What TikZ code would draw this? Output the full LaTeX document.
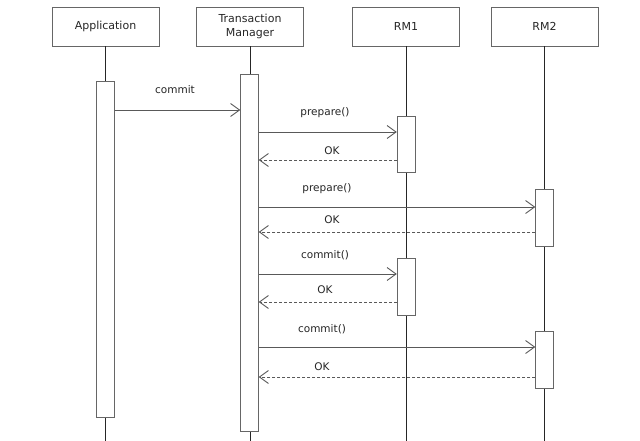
\documentclass[tikz,border=0pt]{standalone}
\usepackage{fontspec}
\setmainfont{DejaVu Sans}
\usetikzlibrary{arrows.meta}
\begin{document}
\begin{tikzpicture}[x=1pt,y=-1pt,
 head/.style={draw=black!60, fill=white, minimum width=107pt, minimum height=39pt, inner sep=0pt, align=center, text=black!85, font=\fontsize{11}{14}\selectfont},
 act/.style={draw=black!60, fill=white, minimum width=18pt, inner sep=0pt},
 life/.style={draw=black!85, line width=0.9pt},
 msg/.style={draw=black!65, line width=0.9pt, -{Straight Barb[length=9pt,width=13pt]}},
 ret/.style={msg, dash pattern=on 3pt off 2pt},
 lbl/.style={font=\fontsize{10.5}{12}\selectfont, text=black!85, inner sep=0pt}]
\useasboundingbox (0,0) rectangle (640,441);
\fill[white] (0,0) rectangle (640,441);
\coordinate (bot) at (0,441);
% headers
\node[head] (app) at (105.5,26.5) {Application};
\node[head] (tm)  at (250,26.5) {Transaction\\Manager};
\node[head] (rm1) at (406,26.5) {RM1};
\node[head] (rm2) at (544.5,26.5) {RM2};
% lifelines
\foreach \n in {app,tm,rm1,rm2} \draw[life] (\n.south) -- (\n.south |- bot);
% activations
\node[act, minimum height=336pt] (appa) at (105.5,249) {};
\node[act, minimum height=357pt] (tma)  at (249.5,252.5) {};
\node[act, minimum height=56pt] (rm1a) at (406,144) {};
\node[act, minimum height=57pt] (rm1b) at (406,286.5) {};
\node[act, minimum height=57pt] (rm2a) at (544.5,217.5) {};
\node[act, minimum height=57pt] (rm2b) at (544.5,359.5) {};
% messages
\draw[msg] (appa.east |- 0,110) -- (tma.west |- 0,110);
\node[lbl] (l1) at (175,90) {commit};
\draw[msg] (tma.east |- 0,132) -- (rm1a.west |- 0,132);
\node[lbl] (l2) at (325,113) {prepare()};
\draw[ret] (rm1a.west |- 0,160) -- (tma.east |- 0,160);
\node[lbl] (l3) at (332,151) {OK};
\draw[msg] (tma.east |- 0,207) -- (rm2a.west |- 0,207);
\node[lbl] (l4) at (327,189) {prepare()};
\draw[ret] (rm2a.west |- 0,232) -- (tma.east |- 0,232);
\node[lbl] (l5) at (332,220) {OK};
\draw[msg] (tma.east |- 0,274) -- (rm1b.west |- 0,274);
\node[lbl] (l6) at (325,255) {commit()};
\draw[ret] (rm1b.west |- 0,302) -- (tma.east |- 0,302);
\node[lbl] (l7) at (325,290) {OK};
\draw[msg] (tma.east |- 0,347) -- (rm2b.west |- 0,347);
\node[lbl] (l8) at (322,329) {commit()};
\draw[ret] (rm2b.west |- 0,377) -- (tma.east |- 0,377);
\node[lbl] (l9) at (322,367) {OK};
\end{tikzpicture}
\end{document}
